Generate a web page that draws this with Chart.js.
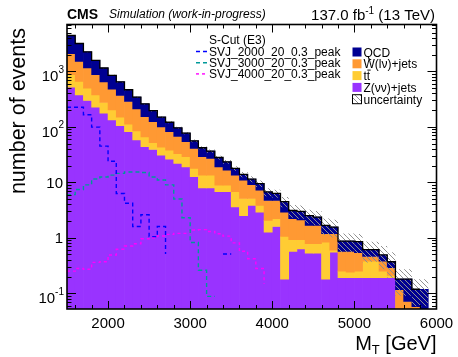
<!DOCTYPE html>
<html>
<head>
<meta charset="utf-8">
<title>MT S-Cut (E3)</title>
<script src="https://cdn.jsdelivr.net/npm/chart.js@4.4.1/dist/chart.umd.min.js"></script>
<style>
    html, body { margin: 0; padding: 0; background: #fff; }
</style>
</head>
<body>
<canvas id="mt-chart" width="458" height="357"></canvas>
<script>
// binning of M_T [GeV]
const mtLow = 1500;
const mtBinWidth = 100;
const mtNBins = 45;

// backgrounds, events per bin, bottom of the stack first
const zinvJets = [521, 378, 298, 226, 176, 133, 105, 82, 58, 44, 39, 31, 26, 22, 19, 12.6, 7.9, 7.9, 6.8, 6.8,
    3.6, 2.5, 3.85, 2.9, 1.26, 1.6, 0.18, 0.57, 0.63, 0.53, 0.53, 0.18, 0.55, 0.19, 0.19, 0.19, 0.19, 0.19, 0.19, 0.19,
    0, 0, 0, 0, 0];
const ttbar = [349, 283, 202, 152, 99, 69, 44, 30, 26, 22, 13, 12, 12, 11, 10, 5.2, 5.6, 5.6, 2.1, 2.1,
    3.2, 2.6, 1.25, 0.95, 0.8, 0.6, 0.88, 0.35, 0.29, 0.25, 0.25, 0.65, 0.05, 0.06, 0.05, 0.06, 0.19, 0.19, 0.06, 0.02,
    0, 0, 0, 0, 0];
const wlnuJets = [1220, 854, 650, 492, 370, 278, 218, 174, 127, 87, 72, 57, 44, 34, 25, 23.2, 15.5, 13.5, 10.1, 7.7,
    6.7, 5.8, 4.0, 3.35, 2.64, 2.5, 1.84, 1.28, 1.18, 0.89, 0.89, 0.35, 0.58, 0.32, 0.33, 0.29, 0.08, 0.08, 0.13, 0.08,
    0.116, 0.071, 0.057, 0, 0];
const qcd = [2340, 1665, 1090, 710, 505, 370, 278, 180, 133, 107, 72, 50, 39, 29, 23, 15, 13, 9.6, 9, 6.8,
    4.3, 3.0, 2.3, 2.3, 2.0, 1.6, 1.6, 0.9, 0.9, 0.83, 0.69, 0.49, 0.38, 0.30, 0.30, 0.31, 0.15, 0.15, 0.11, 0.08,
    0.064, 0.109, 0.061, 0.118, 0];
// absolute uncertainty on the summed background
const bkgUncertainty = [40, 35, 28, 22, 18, 15, 12, 10, 8, 7, 6, 5, 4.5, 4, 3.5, 3, 2.6, 2.4, 2.1, 1.9,
    1.6, 1.5, 1.4, 1.3, 1.1, 1.05, 0.95, 0.8, 0.8, 0.7, 0.68, 0.55, 0.55, 0.32, 0.32, 0.32, 0.25, 0.24, 0.22, 0.18,
    0.09, 0.09, 0.06, 0.06, 0];

// signals
const svj2000 = [226, 226, 165, 99, 45, 24, 6.3, 4.2, 1.6, 2.6, 1.05, 1.6, 0.51, 0, 0, 0, 0, 0, 0, 0.51,
    0.51, 0, 0, 0, 0, 0, 0, 0, 0, 0, 0, 0, 0, 0, 0, 0, 0, 0, 0, 0,
    0, 0, 0, 0, 0];
const svj3000 = [6, 7.4, 9, 11.5, 12.5, 13.5, 14.5, 15.3, 15.3, 15, 12.5, 11, 9, 5, 2.3, 0.82, 0.26, 0.088, 0.088, 0,
    0, 0, 0, 0, 0, 0, 0, 0, 0, 0, 0, 0, 0, 0, 0, 0, 0, 0, 0, 0,
    0, 0, 0, 0, 0];
const svj4000 = [0.25, 0.28, 0.27, 0.36, 0.37, 0.49, 0.62, 0.71, 0.78, 0.96, 1.0, 1.08, 1.15, 1.2, 1.2, 1.38, 1.4, 1.3, 1.18, 1.07,
    0.81, 0.57, 0.42, 0.28, 0.147, 0, 0, 0, 0, 0, 0, 0, 0, 0, 0, 0, 0, 0, 0, 0,
    0, 0, 0, 0, 0];

// axes
const xTickValues = [2000, 3000, 4000, 5000, 6000];
const yTickValues = [0.1, 1, 10, 100, 1000];
const yTickLabels = [['10', '-1'], ['1', ''], ['10', ''], ['10', '2'], ['10', '3']];

// legends
const signalLabels = ['SVJ_2000_20_0.3_peak', 'SVJ_3000_20_0.3_peak', 'SVJ_4000_20_0.3_peak'];
const bkgLabels = ['QCD', 'W(l\u03bd)+jets', 'tt', 'Z(\u03bd\u03bd)+jets', 'uncertainty'];

(function () {
    const FONT = '"Liberation Sans", Arial, Helvetica, sans-serif';
    const Y_MIN = 0.052;
    const Y_MAX = 7000;
    // log axis has no zero, bars start just under the axis minimum
    const FLOOR = Y_MIN / 2;
    const COLORS = {
        qcd: '#000092',
        wjets: '#ff9933',
        ttbar: '#ffcc33',
        zinv: '#9933ff',
        svj2000: '#0000ff',
        svj3000: '#009999',
        svj4000: '#ff00ff',
    };
    const DASHES = {
        svj2000: [4, 3],
        svj3000: [4, 3],
        svj4000: [3, 3],
    };

    const binEdges = [];
    for (let i = 0; i <= mtNBins; i++) {
        binEdges.push(mtLow + i * mtBinWidth);
    }
    const binCenters = binEdges.slice(0, mtNBins).map((e) => e + mtBinWidth / 2);

    const hatch = makeHatch();

    main();

    function main() {
        const base0 = zinvJets.map(() => 0);
        const base1 = addArrays(base0, zinvJets);
        const base2 = addArrays(base1, ttbar);
        const base3 = addArrays(base2, wlnuJets);
        const total = addArrays(base3, qcd);

        const datasets = [
            stepLine(svj2000, COLORS.svj2000, DASHES.svj2000, 0),
            stepLine(svj3000, COLORS.svj3000, DASHES.svj3000, 0),
            stepLine(svj4000, COLORS.svj4000, DASHES.svj4000, 0),
            stepLine(total, '#000000', [], 1, 1.3),
            {
                type: 'bar',
                label: 'uncertainty',
                data: binCenters.map((c, i) => ({
                    x: c,
                    y: total[i] > 0 ? [Math.max(total[i] - bkgUncertainty[i], FLOOR), total[i] + bkgUncertainty[i]] : null,
                })),
                backgroundColor: hatch,
                borderWidth: 0,
                inflateAmount: 0,
                grouped: false,
                barPercentage: 1,
                categoryPercentage: 1,
                order: 2,
            },
            stackBar('QCD', base3, qcd, COLORS.qcd),
            stackBar('W(lv)+jets', base2, wlnuJets, COLORS.wjets),
            stackBar('ttbar', base1, ttbar, COLORS.ttbar),
            stackBar('Z(vv)+jets', base0, zinvJets, COLORS.zinv),
        ];

        new Chart(document.getElementById('mt-chart'), {
            type: 'bar',
            data: { datasets: datasets },
            options: {
                responsive: false,
                animation: false,
                devicePixelRatio: 1,
                layout: { padding: { left: 67, right: 21.5, top: 24.5, bottom: 48 } },
                plugins: {
                    legend: { display: false },
                    tooltip: { enabled: false },
                },
                elements: { point: { radius: 0 } },
                scales: {
                    x: { type: 'linear', min: mtLow, max: binEdges[mtNBins], offset: false, display: false },
                    y: { type: 'logarithmic', min: Y_MIN, max: Y_MAX, display: false },
                },
            },
            plugins: [rootStylePlugin()],
        });
    }

    function addArrays(a, b) {
        return a.map((v, i) => v + b[i]);
    }

    function stackBar(label, lower, values, color) {
        return {
            type: 'bar',
            label: label,
            data: binCenters.map((c, i) => ({
                x: c,
                y: values[i] > 0 ? [Math.max(lower[i], FLOOR), lower[i] + values[i]] : null,
            })),
            backgroundColor: color,
            borderWidth: 0,
            grouped: false,
            barPercentage: 1,
            categoryPercentage: 1,
            order: 3,
        };
    }

    function stepLine(values, color, dash, order, width) {
        return {
            type: 'line',
            data: binEdges.map((e, i) => ({ x: e, y: values[Math.min(i, mtNBins - 1)] })),
            borderColor: color,
            borderWidth: width || 1.4,
            borderDash: dash,
            stepped: 'before',
            fill: false,
            pointRadius: 0,
            order: order,
        };
    }

    function makeHatch() {
        const c = document.createElement('canvas');
        c.width = 5;
        c.height = 5;
        const g = c.getContext('2d');
        g.strokeStyle = '#8f8f8f';
        g.lineWidth = 1;
        g.beginPath();
        g.moveTo(0, 0); g.lineTo(5, 5);
        g.moveTo(-1, 4); g.lineTo(1, 6);
        g.moveTo(4, -1); g.lineTo(6, 1);
        g.stroke();
        return g.createPattern(c, 'repeat');
    }

    function rootStylePlugin() {
        return {
            id: 'rootStyle',
            afterDraw(chart) {
                const { ctx, chartArea: a, scales: { x, y } } = chart;
                ctx.save();
                drawFrameAndTicks(ctx, a, x, y);
                drawTickLabels(ctx, a, x, y);
                drawTitles(ctx, a);
                drawLegend(ctx);
                ctx.restore();
            },
        };
    }

    function line(ctx, x0, y0, x1, y1) {
        ctx.beginPath();
        ctx.moveTo(x0, y0);
        ctx.lineTo(x1, y1);
        ctx.stroke();
    }

    function drawFrameAndTicks(ctx, a, x, y) {
        ctx.strokeStyle = '#000';
        ctx.lineWidth = 1;
        ctx.setLineDash([]);

        // x ticks: major every 1000, minor every 200
        for (let v = mtLow + 100; v < binEdges[mtNBins]; v += 100) {
            if (v % 200 !== 0) continue;
            const px = Math.round(x.getPixelForValue(v)) + 0.5;
            const len = v % 1000 === 0 ? 8 : 4;
            line(ctx, px, a.bottom, px, a.bottom - len);
            line(ctx, px, a.top, px, a.top + len);
        }
        // y ticks, log
        for (let e = -2; e <= 4; e++) {
            for (let m = 1; m <= 9; m++) {
                const v = m * Math.pow(10, e);
                if (v < y.min || v > y.max) continue;
                const py = Math.round(y.getPixelForValue(v)) + 0.5;
                const len = m === 1 ? 9 : 4.5;
                line(ctx, a.left, py, a.left + len, py);
                line(ctx, a.right, py, a.right - len, py);
            }
        }
        ctx.lineWidth = 1.6;
        ctx.strokeRect(a.left, a.top, a.right - a.left, a.bottom - a.top);
    }

    function drawTickLabels(ctx, a, x, y) {
        ctx.fillStyle = '#000';
        ctx.font = '15px ' + FONT;
        ctx.textAlign = 'center';
        ctx.textBaseline = 'alphabetic';
        xTickValues.forEach((v) => {
            ctx.fillText(String(v), x.getPixelForValue(v), a.bottom + 18.5);
        });

        yTickValues.forEach((v, i) => {
            const [base, sup] = yTickLabels[i];
            const py = y.getPixelForValue(v);
            const right = a.left - 3;
            ctx.textAlign = 'right';
            if (sup) {
                ctx.font = '10px ' + FONT;
                const w = ctx.measureText(sup).width;
                ctx.fillText(sup, right, py + 1.5);
                ctx.font = '15px ' + FONT;
                ctx.fillText(base, right - w, py + 10);
            } else {
                ctx.font = '15px ' + FONT;
                ctx.fillText(base, right - 1, py + 5.5);
            }
        });
    }

    function drawTitles(ctx, a) {
        ctx.fillStyle = '#000';
        ctx.textBaseline = 'alphabetic';

        // header
        ctx.textAlign = 'left';
        ctx.font = 'bold 14px ' + FONT;
        ctx.fillText('CMS', 67, 18.5);
        ctx.font = 'italic 12px ' + FONT;
        ctx.fillText('Simulation (work-in-progress)', 109, 18);

        const lumiParts = [['137.0 fb', 15, 0], ['-1', 10, -6], [' (13 TeV)', 15, 0]];
        drawRunRight(ctx, lumiParts, 435, 19.5);

        // x title
        const xParts = [['M', 20, 0], ['T', 13, 4], [' [GeV]', 20, 0]];
        drawRunRight(ctx, xParts, a.right, 350);

        // y title
        ctx.save();
        ctx.translate(25, 28);
        ctx.rotate(-Math.PI / 2);
        ctx.textAlign = 'right';
        ctx.font = '21.5px ' + FONT;
        ctx.fillText('number of events', 0, 0);
        ctx.restore();
    }

    function drawRunRight(ctx, parts, right, baseline) {
        ctx.textAlign = 'left';
        let width = 0;
        parts.forEach(([t, size]) => {
            ctx.font = size + 'px ' + FONT;
            width += ctx.measureText(t).width;
        });
        let px = right - width;
        parts.forEach(([t, size, dy]) => {
            ctx.font = size + 'px ' + FONT;
            ctx.fillText(t, px, baseline + dy);
            px += ctx.measureText(t).width;
        });
    }

    function drawLegend(ctx) {
        ctx.fillStyle = '#000';
        ctx.textAlign = 'left';
        ctx.textBaseline = 'alphabetic';
        ctx.font = '12px ' + FONT;
        ctx.fillText('S-Cut (E3)', 209, 43.5);

        const sigStyles = [
            [COLORS.svj2000, DASHES.svj2000],
            [COLORS.svj3000, DASHES.svj3000],
            [COLORS.svj4000, DASHES.svj4000],
        ];
        signalLabels.forEach((label, i) => {
            const base = 55.5 + 11.2 * i;
            ctx.strokeStyle = sigStyles[i][0];
            ctx.lineWidth = 1.4;
            ctx.setLineDash(sigStyles[i][1]);
            line(ctx, 196, base - 4, 208, base - 4);
            ctx.setLineDash([]);
            ctx.fillStyle = '#000';
            ctx.fillText(label, 209, base);
        });

        const boxColors = [COLORS.qcd, COLORS.wjets, COLORS.ttbar, COLORS.zinv, hatch];
        bkgLabels.forEach((label, i) => {
            const top = 47.5 + 11.8 * i;
            const base = 56.5 + 11.8 * i;
            ctx.fillStyle = '#ffffff';
            ctx.fillRect(352.5, top, 9, 9);
            ctx.fillStyle = boxColors[i];
            ctx.fillRect(352.5, top, 9, 9);
            if (i === 4) {
                ctx.strokeStyle = '#000';
                ctx.lineWidth = 1;
                ctx.strokeRect(352.5, top, 9, 9);
            }
            ctx.fillStyle = '#000';
            ctx.fillText(label, 363.5, base);
            if (label === 'tt') {
                // anti-top bar over the second t
                const w1 = ctx.measureText('t').width;
                ctx.strokeStyle = '#000';
                ctx.lineWidth = 1;
                line(ctx, 363.5 + w1 + 0.5, base - 10, 363.5 + 2 * w1 + 0.5, base - 10);
            }
        });
    }
})();
</script>
</body>
</html>
